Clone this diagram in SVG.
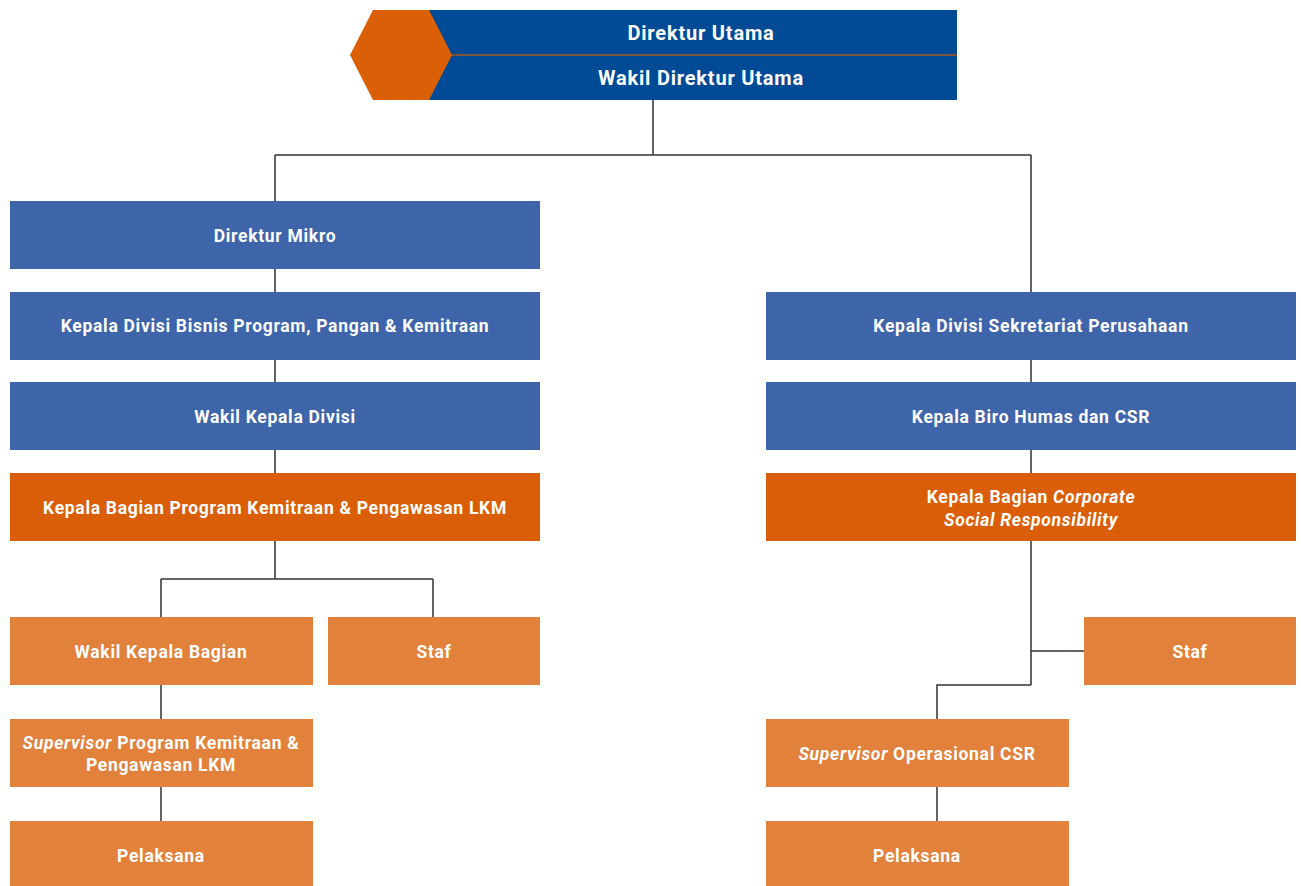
<svg xmlns="http://www.w3.org/2000/svg" width="1301" height="886" viewBox="0 0 1301 886">
<style>
.t{font-family:Roboto,"Liberation Sans",sans-serif;font-weight:bold;fill:#fff;text-anchor:middle;dominant-baseline:central;font-size:17.5px;letter-spacing:0.7px}
.tt{font-size:20px;letter-spacing:0.8px}
.blue{fill:#3e65a9}
.dor{fill:#da5e07}
.lor{fill:#e2813b}
.c{fill:none;stroke:#333;stroke-width:1.5}
</style>
<rect width="1301" height="886" fill="#fff"/>
<g id="connectors">
<path class="c" d="M653 100V155M275 155H1031M275 155V201M1031 155V292M275 269V292M275 360V382M275 450V473M1031 360V382M1031 450V473"/>
<path class="c" d="M275 541V579M161 579H433M161 579V617M433 579V617M161 685V719M161 787V821"/>
<path class="c" d="M1031 541V685M1031 651H1084M1031 685H937V719M937 787V821"/>
</g>
<g id="top">
<rect x="401" y="10" width="556" height="90" fill="#004a96"/>
<line x1="440" y1="55" x2="957" y2="55" stroke="#a9581f" stroke-width="1.5"/>
<polygon points="350,55 373,10 429,10 452,55 429,100 373,100" fill="#db5f07"/>
<text class="t tt" x="701" y="33">Direktur Utama</text>
<text class="t tt" x="701" y="78">Wakil Direktur Utama</text>
</g>
<g id="direktur-mikro"><rect class="blue" x="10" y="201" width="530" height="68"/><text class="t" x="275" y="236">Direktur Mikro</text></g>
<g id="kadiv-bisnis"><rect class="blue" x="10" y="292" width="530" height="68"/><text class="t" x="275" y="326">Kepala Divisi Bisnis Program, Pangan &amp; Kemitraan</text></g>
<g id="wakadiv"><rect class="blue" x="10" y="382" width="530" height="68"/><text class="t" x="275" y="417">Wakil Kepala Divisi</text></g>
<g id="kabag-pk"><rect class="dor" x="10" y="473" width="530" height="68"/><text class="t" x="275" y="508">Kepala Bagian Program Kemitraan &amp; Pengawasan LKM</text></g>
<g id="wakabag"><rect class="lor" x="10" y="617" width="303" height="68"/><text class="t" x="161" y="652">Wakil Kepala Bagian</text></g>
<g id="staf-left"><rect class="lor" x="328" y="617" width="212" height="68"/><text class="t" x="434" y="652">Staf</text></g>
<g id="spv-pk"><rect class="lor" x="10" y="719" width="303" height="68"/><text class="t" x="161" y="743"><tspan font-style="italic">Supervisor</tspan> Program Kemitraan &amp;</text><text class="t" x="161" y="765">Pengawasan LKM</text></g>
<g id="pelaksana-left"><rect class="lor" x="10" y="821" width="303" height="65"/><text class="t" x="161" y="856">Pelaksana</text></g>
<g id="kadiv-sekper"><rect class="blue" x="766" y="292" width="530" height="68"/><text class="t" x="1031" y="326">Kepala Divisi Sekretariat Perusahaan</text></g>
<g id="kabiro-humas"><rect class="blue" x="766" y="382" width="530" height="68"/><text class="t" x="1031" y="417">Kepala Biro Humas dan CSR</text></g>
<g id="kabag-csr"><rect class="dor" x="766" y="473" width="530" height="68"/><text class="t" x="1031" y="497">Kepala Bagian <tspan font-style="italic">Corporate</tspan></text><text class="t" x="1031" y="520" font-style="italic">Social Responsibility</text></g>
<g id="staf-right"><rect class="lor" x="1084" y="617" width="212" height="68"/><text class="t" x="1190" y="652">Staf</text></g>
<g id="spv-csr"><rect class="lor" x="766" y="719" width="303" height="68"/><text class="t" x="917" y="754"><tspan font-style="italic">Supervisor</tspan> Operasional CSR</text></g>
<g id="pelaksana-right"><rect class="lor" x="766" y="821" width="303" height="65"/><text class="t" x="917" y="856">Pelaksana</text></g>
</svg>
